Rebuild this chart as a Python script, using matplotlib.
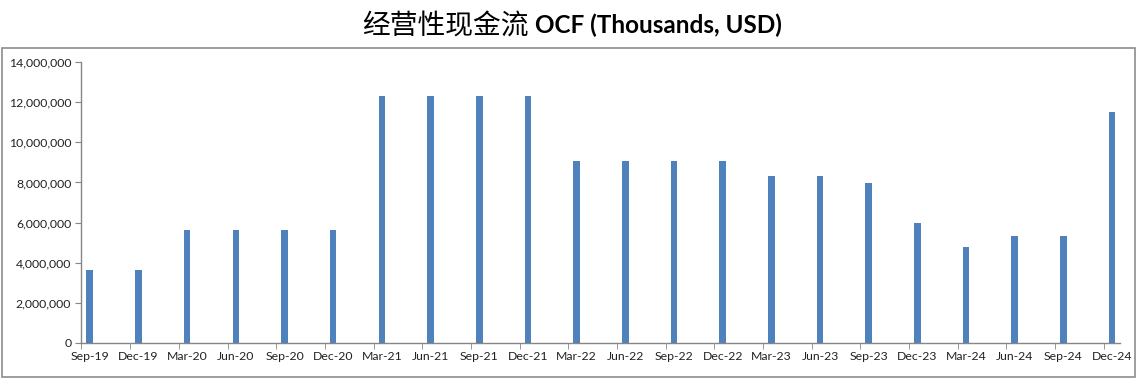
import numpy as np
import matplotlib.pyplot as plt
from matplotlib.patches import Rectangle
from matplotlib.ticker import FuncFormatter

# quarter labels and operating cash flow values (thousands USD)
quarters = ['Sep-19', 'Dec-19', 'Mar-20', 'Jun-20', 'Sep-20', 'Dec-20',
            'Mar-21', 'Jun-21', 'Sep-21', 'Dec-21', 'Mar-22', 'Jun-22',
            'Sep-22', 'Dec-22', 'Mar-23', 'Jun-23', 'Sep-23', 'Dec-23',
            'Mar-24', 'Jun-24', 'Sep-24', 'Dec-24']
ocf = [3640000, 3640000, 5630000, 5630000, 5630000, 5630000,
       12310000, 12310000, 12310000, 12310000, 9070000, 9070000,
       9070000, 9070000, 8320000, 8320000, 7960000, 5980000,
       4780000, 5330000, 5330000, 11510000]
yticks = np.arange(0, 14000001, 2000000)

plt.rcParams['font.family'] = ['Lato', 'DejaVu Sans']

fig = plt.figure(figsize=(11.41, 3.89), dpi=100)
ax = fig.add_axes([0.071, 0.1183, 0.9105, 0.7223])

x = np.arange(len(quarters))
ax.bar(x, ocf, width=0.135, color='#4F81BD')

ax.set_xlim(-0.18, len(quarters) - 1 + 0.16)
ax.set_ylim(0, 14000000)

# labels sit on the bars, small tick marks a bit to the left (date axis look)
ax.set_xticks(x)
ax.set_xticklabels(quarters, fontsize=8.8, color='#222222')
ax.tick_params(axis='x', which='major', length=0, pad=6)
ax.set_xticks(x - 0.17, minor=True)
ax.tick_params(axis='x', which='minor', length=4, color='#868686')

ax.set_yticks(yticks)
ax.yaxis.set_major_formatter(FuncFormatter(lambda v, p: f'{int(v):,}'))
ax.tick_params(axis='y', length=4, color='#868686', labelsize=8.8,
               labelcolor='#222222', pad=3)

for s in ['top', 'right']:
    ax.spines[s].set_visible(False)
for s in ['left', 'bottom']:
    ax.spines[s].set_color('#868686')
    ax.spines[s].set_linewidth(1)

# chart area border
fig.patches.append(Rectangle((0.002, 0.031), 0.993, 0.846, transform=fig.transFigure,
                             fill=False, edgecolor='#8c8c8c', linewidth=1.2))

fig.text(0.4636, 0.935, '经营性现金流', fontsize=20, ha='right', va='center',
         family=['Noto Sans CJK SC', 'DejaVu Sans'])
fig.text(0.4689, 0.935, 'OCF (Thousands, USD)', fontsize=17.5, fontweight='bold',
         ha='left', va='center')

fig.savefig('out.png', dpi=100)
